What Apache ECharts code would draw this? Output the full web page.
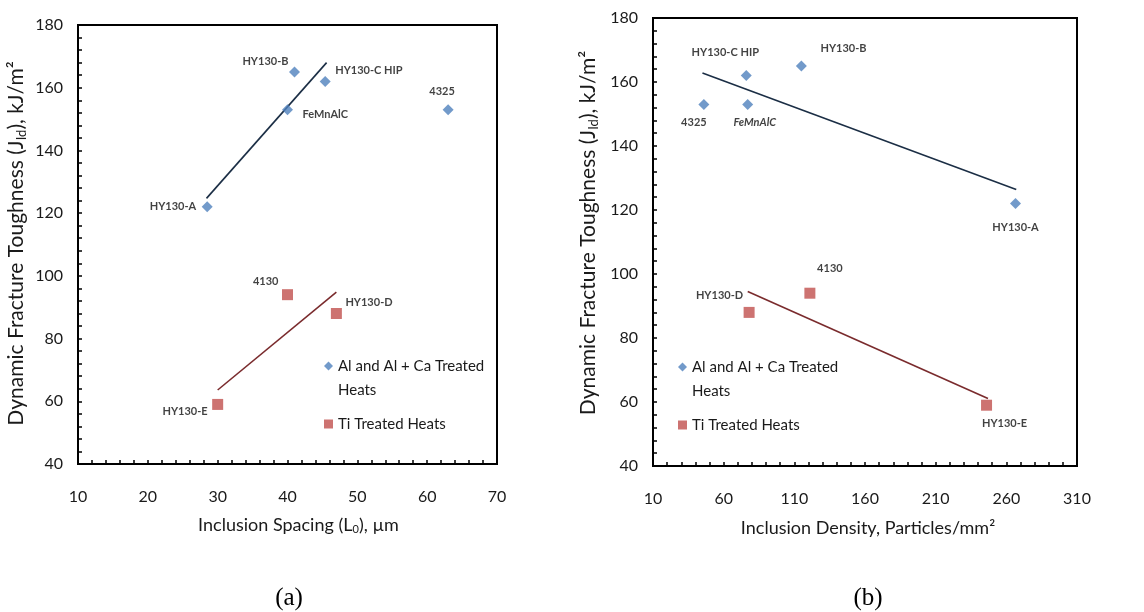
<!DOCTYPE html>
<html>
<head>
<meta charset="utf-8">
<script src="https://cdn.jsdelivr.net/npm/echarts@6/dist/echarts.min.js"></script>
<style>
  html, body { margin: 0; padding: 0; background: #fff; }
  #chart { width: 1144px; height: 612px; }
</style>
</head>
<body>
<div id="chart"></div>
<script>
// Al and Al + Ca treated heats
const alNames = ['HY130-A', 'HY130-B', 'HY130-C HIP', 'FeMnAlC', '4325'];
const alSpacing = [28.5, 41, 45.4, 40, 63];          // µm
const alDensity = [266.5, 115, 76, 77, 46];          // particles/mm²
const alToughness = [122, 165, 162, 153, 153];       // kJ/m²

// Ti treated heats
const tiNames = ['4130', 'HY130-D', 'HY130-E'];
const tiSpacing = [40, 47, 30];
const tiDensity = [121, 78, 246];
const tiToughness = [94, 88, 59];

// Linear trend lines (end points)
const alSpacingTrendX = [28.4, 45.6];
const alSpacingTrendY = [124.7, 168];
const tiSpacingTrendX = [30, 47];
const tiSpacingTrendY = [63.6, 94.8];
const alDensityTrendX = [45, 267];
const alDensityTrendY = [162.8, 126.4];
const tiDensityTrendX = [77, 247];
const tiDensityTrendY = [94.5, 61.1];

// Axis ticks
const spacingTicks = [10, 20, 30, 40, 50, 60, 70];
const densityLabels = [10, 60, 110, 160, 210, 260, 310];
const densityTicks = [10, 20, 30, 40, 50, 60, 70, 80, 90, 100, 110, 120, 130, 140, 150, 160, 170, 180, 190, 200, 210, 220, 230, 240, 250, 260, 270, 280, 290, 300, 310];

const AL_NAME = 'Al and Al + Ca Treated Heats';
const TI_NAME = 'Ti Treated Heats';
const FONT = 'Lato, "Open Sans", sans-serif';
const BLUE = '#4F81BD';
const RED = '#C0504D';
const INK = '#1a1a1a';

// Where each point's name sits relative to its marker
const labelPlacementA = {
  'HY130-A': ['right', -11, 0],
  'HY130-B': ['right', -6, -11],
  'HY130-C HIP': ['left', 10, -11],
  'FeMnAlC': ['left', 15, 5],
  '4325': ['center', -6, -18],
  '4130': ['right', -9, -13],
  'HY130-D': ['left', 9, -11],
  'HY130-E': ['right', -10, 7]
};
const labelPlacementB = {
  'HY130-A': ['center', 0, 24],
  'HY130-B': ['left', 19, -18],
  'HY130-C HIP': ['center', -21, -23],
  'FeMnAlC': ['center', 7, 18, 'italic'],
  '4325': ['center', -10, 18],
  '4130': ['center', 20, -25],
  'HY130-D': ['right', -6, -17],
  'HY130-E': ['center', 18, 18]
};

function points(names, xs, ys, placement) {
  return names.map((n, i) => {
    const p = placement[n];
    return {
      name: n,
      value: [xs[i], ys[i]],
      label: {
        show: true,
        formatter: n,
        position: 'inside',
        align: p[0],
        verticalAlign: 'middle',
        offset: [p[1], p[2]],
        fontStyle: p[3] || 'normal'
      }
    };
  });
}

function trend(xs, ys) {
  return xs.map((x, i) => [x, ys[i]]);
}

const pointLabel = {
  color: '#111',
  fontSize: 11,
  fontWeight: 'bold',
  fontFamily: FONT
};

function scatter(name, idx, data, symbol, size, color) {
  return {
    name: name,
    type: 'scatter',
    xAxisIndex: idx,
    yAxisIndex: idx,
    symbol: symbol,
    symbolSize: size,
    itemStyle: { color: color },
    label: pointLabel,
    data: data,
    z: 3
  };
}

function trendSeries(idx, data, color) {
  return {
    type: 'line',
    xAxisIndex: idx,
    yAxisIndex: idx,
    data: data,
    showSymbol: false,
    silent: true,
    lineStyle: { color: color, width: 1.6 },
    z: 2
  };
}

const axisLineStyle = { show: true, lineStyle: { color: '#000', width: 2 } };
const tickStyle = { show: true, inside: true, length: 4, lineStyle: { color: '#000', width: 1.5 } };
const labelStyle = { color: INK, fontSize: 16, fontFamily: FONT };
const subStyle = { fontFamily: FONT, color: INK, verticalAlign: 'bottom' };

function nameStyle(size, padding) {
  return {
    color: INK,
    fontSize: size,
    fontFamily: FONT,
    padding: padding,
    rich: {
      sub: Object.assign({ fontSize: Math.round(size * 0.62), padding: [Math.round(size * 0.5), 0, 0, 0] }, subStyle)
    }
  };
}

function yAxis(gridIndex, gap, padding) {
  return {
    type: 'value',
    gridIndex: gridIndex,
    min: 40,
    max: 180,
    interval: 20,
    name: 'Dynamic Fracture Toughness (J{sub|Id}), kJ/m²',
    nameLocation: 'middle',
    nameGap: gap,
    nameTextStyle: nameStyle(21, padding),
    axisLine: axisLineStyle,
    axisTick: tickStyle,
    minorTick: { show: true, splitNumber: 5, length: 4, lineStyle: { color: '#000', width: 1.5 } },
    axisLabel: Object.assign({ margin: 15 }, labelStyle),
    splitLine: { show: false }
  };
}

function legend(left, top) {
  return {
    left: left,
    top: top,
    orient: 'vertical',
    padding: 0,
    itemGap: 10,
    itemWidth: 9,
    itemHeight: 9,
    selectedMode: false,
    textStyle: { color: INK, fontSize: 15, fontFamily: FONT, lineHeight: 24 },
    formatter: function (name) {
      return name === AL_NAME ? '\nAl and Al + Ca Treated\nHeats' : name;
    },
    data: [
      { name: AL_NAME, icon: 'diamond', itemStyle: { color: BLUE } },
      { name: TI_NAME, icon: 'rect', itemStyle: { color: RED } }
    ]
  };
}

const option = {
  backgroundColor: '#fff',
  animation: false,
  textStyle: { fontFamily: FONT },
  grid: [
    { left: 78, top: 25, width: 419, height: 439, show: true, borderColor: '#000', borderWidth: 2, backgroundColor: 'transparent' },
    { left: 653, top: 18, width: 424, height: 448, show: true, borderColor: '#000', borderWidth: 2, backgroundColor: 'transparent' }
  ],
  xAxis: [
    {
      type: 'value',
      gridIndex: 0,
      min: spacingTicks[0],
      max: spacingTicks[spacingTicks.length - 1],
      interval: 10,
      name: 'Inclusion Spacing (L{sub|0}), µm',
      nameLocation: 'middle',
      nameGap: 51,
      nameTextStyle: nameStyle(18, [0, 0, 0, 22]),
      axisLine: axisLineStyle,
      axisTick: tickStyle,
      minorTick: { show: true, splitNumber: 5, length: 4, lineStyle: { color: '#000', width: 1.5 } },
      axisLabel: Object.assign({ margin: 25 }, labelStyle),
      splitLine: { show: false }
    },
    {
      type: 'value',
      gridIndex: 1,
      min: densityLabels[0],
      max: densityLabels[densityLabels.length - 1],
      name: 'Inclusion Density, Particles/mm²',
      nameLocation: 'middle',
      nameGap: 53,
      nameTextStyle: nameStyle(18, [0, 0, 0, 6]),
      axisLine: axisLineStyle,
      axisTick: Object.assign({ customValues: densityTicks }, tickStyle),
      axisLabel: Object.assign({ margin: 25, customValues: densityLabels }, labelStyle),
      splitLine: { show: false }
    }
  ],
  yAxis: [yAxis(0, 50, [0, 0, 0, 2]), yAxis(1, 53, [0, 0, 0, 18])],
  legend: [legend(324, 330), legend(678, 331)],
  series: [
    trendSeries(0, trend(alSpacingTrendX, alSpacingTrendY), '#1b2e45'),
    trendSeries(0, trend(tiSpacingTrendX, tiSpacingTrendY), '#7a2b2d'),
    scatter(AL_NAME, 0, points(alNames, alSpacing, alToughness, labelPlacementA), 'diamond', 11, BLUE),
    scatter(TI_NAME, 0, points(tiNames, tiSpacing, tiToughness, labelPlacementA), 'rect', 11, RED),
    trendSeries(1, trend(alDensityTrendX, alDensityTrendY), '#1b2e45'),
    trendSeries(1, trend(tiDensityTrendX, tiDensityTrendY), '#7a2b2d'),
    scatter(AL_NAME, 1, points(alNames, alDensity, alToughness, labelPlacementB), 'diamond', 11, BLUE),
    scatter(TI_NAME, 1, points(tiNames, tiDensity, tiToughness, labelPlacementB), 'rect', 11, RED)
  ],
  graphic: [
    { type: 'text', x: 289, y: 598, style: { text: '(a)', fontSize: 25, fontFamily: '"Liberation Serif", serif', fill: '#000', align: 'center', verticalAlign: 'middle' } },
    { type: 'text', x: 868, y: 598, style: { text: '(b)', fontSize: 25, fontFamily: '"Liberation Serif", serif', fill: '#000', align: 'center', verticalAlign: 'middle' } }
  ]
};

const chart = echarts.init(document.getElementById('chart'), null, { renderer: 'canvas' });
chart.setOption(option);
</script>
</body>
</html>
